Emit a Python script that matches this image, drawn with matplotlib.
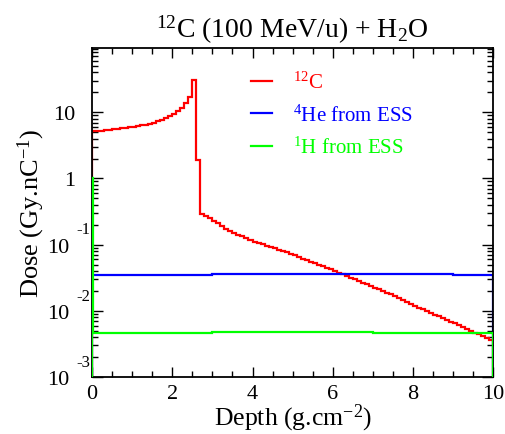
import matplotlib
matplotlib.use('Agg')
import matplotlib.pyplot as plt
import matplotlib.transforms as mtransforms
import numpy as np

plt.rcParams.update({
    'font.family': 'Liberation Serif',
    'mathtext.fontset': 'custom',
    'mathtext.rm': 'Liberation Serif',
    'mathtext.it': 'Liberation Serif:italic',
    'mathtext.bf': 'Liberation Serif:bold',
})

# ---- data: dose per 0.1 g/cm2 bin ----
bin_width = 0.1
dose_c12 = [
    5.15, 5.22, 5.30, 5.38, 5.46, 5.55, 5.64, 5.74, 5.85, 5.96,
    6.07, 6.20, 6.35, 6.52, 6.72, 6.98, 7.30, 7.70, 8.20, 8.80,
    9.55, 10.5, 11.5, 13.6, 17.1, 30.9, 1.89,
    0.295, 0.272, 0.251, 0.229, 0.209, 0.191, 0.174, 0.162, 0.151, 0.141,
    0.133, 0.126, 0.117, 0.111, 0.106, 0.101, 0.0966, 0.0923, 0.0881, 0.0841,
    0.0804, 0.0767, 0.0733, 0.0692, 0.0653, 0.0617, 0.0589, 0.0556, 0.0525, 0.0501,
    0.0473, 0.0447, 0.0422, 0.0398, 0.0376, 0.0355, 0.0335, 0.0316, 0.0299, 0.0282,
    0.0266, 0.0251, 0.0237, 0.0224, 0.0211, 0.0200, 0.0188, 0.0178, 0.0166, 0.0155,
    0.0145, 0.0136, 0.0129, 0.0120, 0.0112, 0.0106, 0.0100, 0.00933, 0.00871, 0.00822,
    0.00776, 0.00724, 0.00684, 0.00646, 0.00603, 0.00562, 0.00531, 0.00501, 0.00468, 0.00442,
    0.00417, 0.00389, 0.00363,
]
# ESS fragments, coarse 1 g/cm2 bins
ess_edges = [0, 1, 2, 3, 4, 5, 6, 7, 8, 9, 10]
dose_he4 = [0.0345, 0.0348, 0.0352, 0.0355, 0.0356, 0.0356, 0.0356, 0.0355, 0.0354, 0.0352]
# 1H has a thin entrance bin
h1_edges = [0, 0.02, 1, 2, 3, 4, 5, 6, 7, 8, 9, 10]
dose_h1 = [1.0, 0.0046, 0.0047, 0.0047, 0.0048, 0.0048, 0.0048, 0.0048, 0.0047, 0.0047, 0.0047]

c12_edges = np.arange(len(dose_c12) + 1) * bin_width

fig = plt.figure(figsize=(5.05, 4.35), dpi=100)
ax = fig.add_axes([0.182, 0.131, 0.795, 0.756])

base = 1e-4
ax.stairs(dose_c12, c12_edges, baseline=base, color='#ff0000', lw=1.6, zorder=2)
ax.stairs(dose_he4, ess_edges, baseline=base, color='#0000ff', lw=1.6, zorder=2)
ax.stairs(dose_h1, h1_edges, baseline=base, color='#00ff00', lw=1.6, zorder=3)

ax.set_yscale('log')
ax.set_xlim(0, 10.0)
ax.set_ylim(1e-3, 93)

ax.set_xticks([0, 2, 4, 6, 8, 10])
ax.set_xticks(np.arange(0, 10.01, 0.5), minor=True)
ax.tick_params(axis='x', which='major', direction='in', length=7, width=1,
               top=True, labelsize=16, pad=5)
ax.tick_params(axis='x', which='minor', direction='in', length=4, width=1, top=True)

ax.set_yticks([1e-3, 1e-2, 1e-1, 1, 10])
ax.set_yticklabels(['', '', '', '1', '10'])
ax.yaxis.set_minor_locator(matplotlib.ticker.LogLocator(base=10, subs=np.arange(2, 10)))
ax.yaxis.set_minor_formatter(matplotlib.ticker.NullFormatter())
ax.tick_params(axis='y', which='major', direction='in', length=8, width=1,
               right=True, labelsize=16, pad=12)
ax.tick_params(axis='y', which='minor', direction='in', length=4, width=1, right=True)

# ROOT-style negative exponent labels
trans = mtransforms.blended_transform_factory(ax.transAxes, ax.transData)
for val, expo in [(1e-1, '-1'), (1e-2, '-2'), (1e-3, '-3')]:
    ax.annotate('10', xy=(0, val), xycoords=trans, xytext=(-16, -2),
                textcoords='offset points', ha='right', va='center', fontsize=16)
    ax.annotate(expo, xy=(0, val), xycoords=trans, xytext=(-1, 11),
                textcoords='offset points', ha='right', va='center', fontsize=12)

for sp in ax.spines.values():
    sp.set_linewidth(1.3)

ax.set_xlabel('Depth (g.cm$^{-2}$)', fontsize=18.5, labelpad=-1)
ax.set_ylabel('Dose (Gy.nC$^{-1}$)', fontsize=19, labelpad=4)
ax.set_title('$^{12}$C (100 MeV/u) + H$_2$O', fontsize=20, pad=8)

ax.legend(['$^{12}$C', '$^{4}$He from ESS', '$^{1}$H from ESS'],
          loc='upper left', bbox_to_anchor=(0.37, 0.96), frameon=False,
          fontsize=15, handlelength=1.0, handletextpad=1.0, labelspacing=0.55,
          borderpad=0, labelcolor='linecolor')

fig.savefig('out.png', dpi=100, facecolor='white')
